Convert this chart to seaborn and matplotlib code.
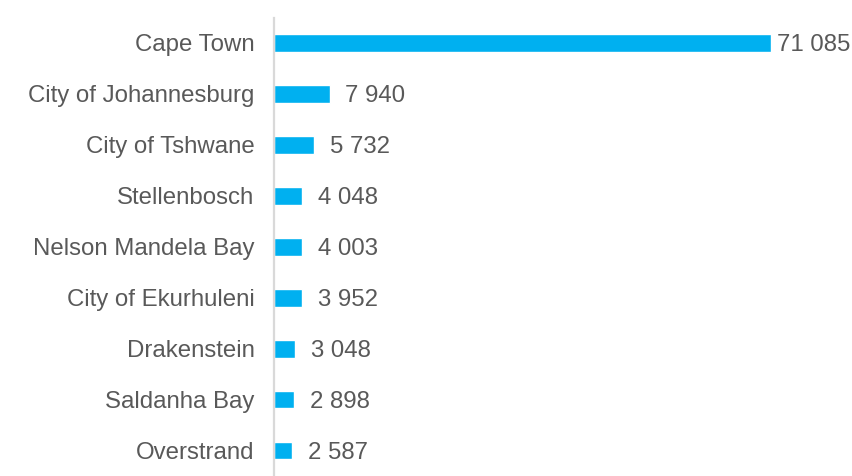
import matplotlib
matplotlib.use("Agg")
import matplotlib.pyplot as plt
import seaborn as sns
import pandas as pd

municipalities = [
    "Cape Town",
    "City of Johannesburg",
    "City of Tshwane",
    "Stellenbosch",
    "Nelson Mandela Bay",
    "City of Ekurhuleni",
    "Drakenstein",
    "Saldanha Bay",
    "Overstrand",
]
counts = [71085, 7940, 5732, 4048, 4003, 3952, 3048, 2898, 2587]

df = pd.DataFrame({"municipality": municipalities, "count": counts})

sns.set_theme(style="white")
plt.rcParams["font.family"] = ["Liberation Sans", "DejaVu Sans"]

W, H = 853, 476
fig = plt.figure(figsize=(W / 100, H / 100), dpi=100)
ax = fig.add_axes([274 / W, 0.0, (771 - 274) / W, 1 - 17.5 / H])

bar_color = "#00B0F0"
text_color = "#595959"
font_size = 17.3

sns.barplot(data=df, x="count", y="municipality", orient="h",
            color=bar_color, width=0.35, saturation=1, ax=ax)

ax.set_xlim(0, max(counts))
ax.set_ylim(len(municipalities) - 0.5, -0.5)

for s in ["top", "right", "bottom"]:
    ax.spines[s].set_visible(False)
ax.spines["left"].set_color("#D9D9D9")
ax.spines["left"].set_linewidth(1.6)

ax.set_xticks([])
ax.set_xlabel("")
ax.set_ylabel("")
ax.tick_params(axis="y", length=0, pad=14, labelsize=font_size, labelcolor=text_color)

def fmt(v):
    return f"{v:,}".replace(",", " ")

container = ax.containers[0]
pads = [4.5] + [11.5] * (len(counts) - 1)
for rect, v, p in zip(container, counts, pads):
    ax.annotate(fmt(v), xy=(rect.get_width(), rect.get_y() + rect.get_height() / 2),
                xytext=(p, 0), textcoords="offset points",
                ha="left", va="center_baseline", fontsize=font_size, color=text_color,
                annotation_clip=False)

fig.savefig("out.png", dpi=100)
